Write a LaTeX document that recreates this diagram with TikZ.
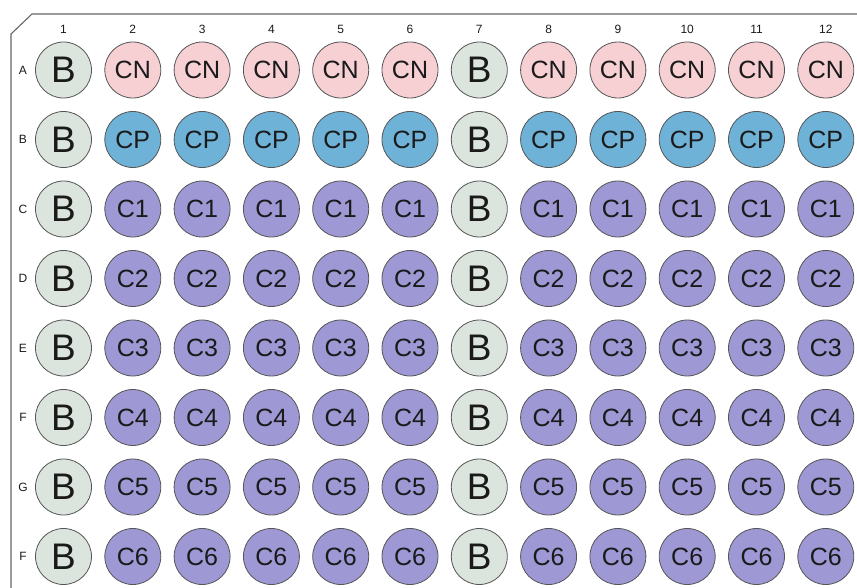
\documentclass[tikz,border=0pt]{standalone}
\usepackage{fontspec}
\setmainfont{Liberation Sans}
\definecolor{blankfill}{HTML}{DCE4DE}
\definecolor{negfill}{HTML}{F7D0D4}
\definecolor{posfill}{HTML}{6FB2D8}
\definecolor{cmpfill}{HTML}{9E98D5}
\definecolor{rimcol}{HTML}{555555}
\definecolor{inkcol}{HTML}{1A1A1A}

\begin{document}
\begin{tikzpicture}[x=1pt,y=-1pt,
  well/.style={circle,draw=rimcol,line width=0.8pt,minimum size=56pt,
    inner sep=0pt,text=inkcol,font=\fontsize{25}{25}\selectfont},
  blank/.style={well,fill=blankfill,font=\fontsize{37}{37}\selectfont},
  lab/.style={text=inkcol,inner sep=0pt,font=\fontsize{12}{12}\selectfont},
  frame/.style={draw=black!60,line width=1.1pt}]
\useasboundingbox (0,0) rectangle (857,588);
% plate outline with cut corner
\coordinate (tr) at (857,14);
\coordinate (c1) at (32,14);
\coordinate (c2) at (11,34);
\coordinate (bl) at (11,588);
\draw[frame] (tr) -- (c1) -- (c2) -- (bl);
% column numbers
\foreach \c in {1,...,12}
  \node[lab] (col\c) at ({63.5+69.3*(\c-1)},29) {\c};
% rows of wells
\foreach \lab/\txt/\col [count=\i] in {A/CN/negfill,B/CP/posfill,
    C/C1/cmpfill,D/C2/cmpfill,E/C3/cmpfill,F/C4/cmpfill,G/C5/cmpfill,F/C6/cmpfill}{
  \node[lab] (row\i) at (23,{70+69.5*(\i-1)}) {\lab};
  \foreach \c in {1,7}
    \node[blank] (well-\i-\c) at ({63.5+69.3*(\c-1)},{70+69.5*(\i-1)}) {B};
  \foreach \c in {2,3,4,5,6,8,9,10,11,12}
    \node[well,fill=\col] (well-\i-\c) at ({63.5+69.3*(\c-1)},{70+69.5*(\i-1)}) {\txt};
}
\end{tikzpicture}
\end{document}
